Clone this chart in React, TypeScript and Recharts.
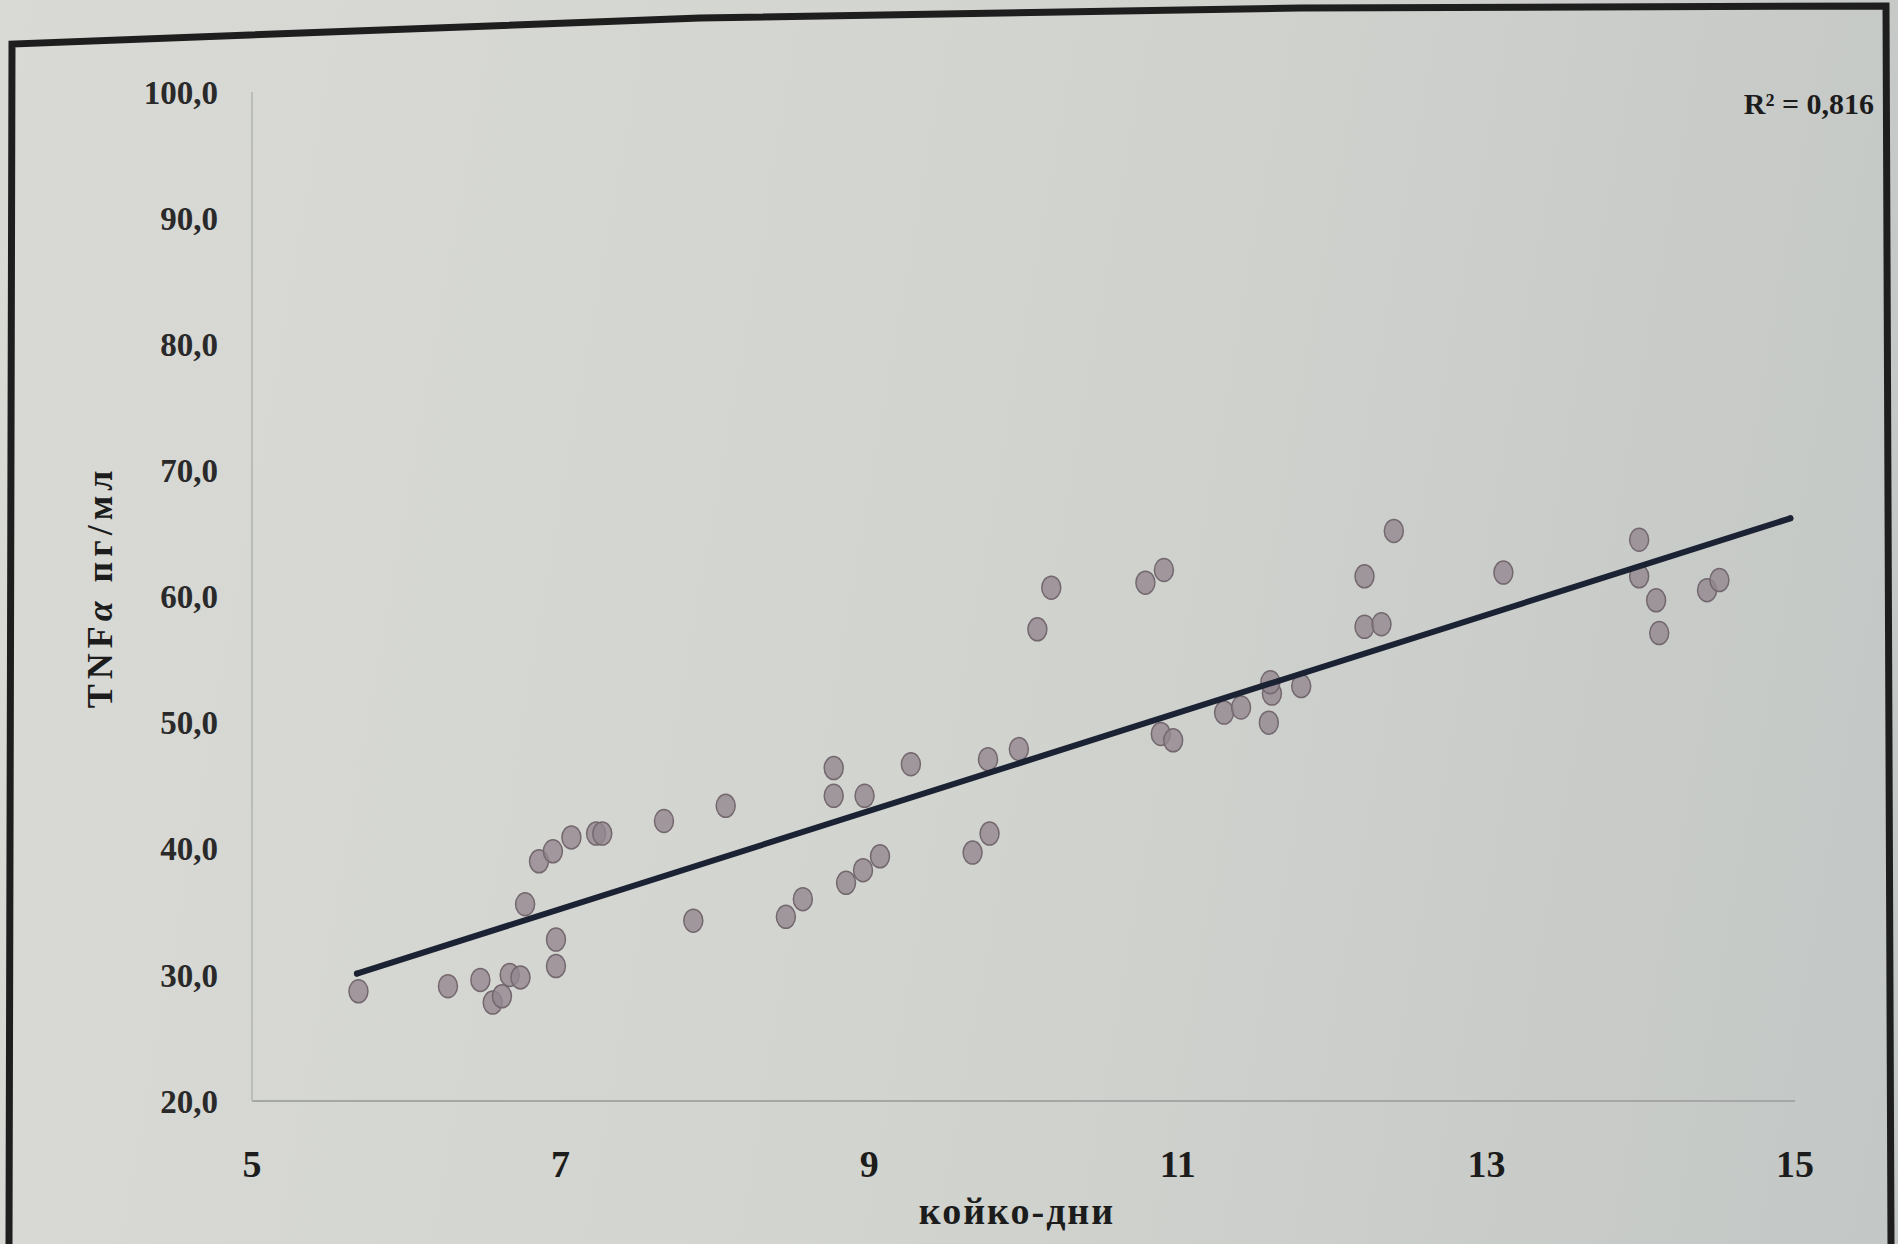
import { ScatterChart, Scatter, XAxis, YAxis } from "recharts";

// values (койко-дни vs TNFα)
const dayValues = [
  5.69, 6.27, 6.48, 6.56, 6.62, 6.67, 6.74, 6.77, 6.97, 6.97, 6.86, 6.95, 7.07, 7.23, 7.27,
  7.67, 7.86, 8.07, 8.46, 8.57, 8.77, 8.77, 8.97, 8.85, 8.96, 9.07, 9.27, 9.67, 9.78, 9.77,
  9.97, 10.09, 10.18, 10.79, 10.91, 10.89, 10.97, 11.3, 11.41, 11.61, 11.6, 11.59, 11.8,
  12.21, 12.4, 12.21, 12.32, 13.11, 13.99, 13.99, 14.1, 14.12, 14.43, 14.51,
];
const tnfValues = [
  28.7, 29.1, 29.6, 27.8, 28.3, 30.0, 29.8, 35.6, 32.8, 30.7, 39.0, 39.8, 40.9, 41.2, 41.2,
  42.2, 34.3, 43.4, 34.6, 36.0, 46.4, 44.2, 44.2, 37.3, 38.3, 39.4, 46.7, 39.7, 41.2, 47.1,
  47.9, 57.4, 60.7, 61.1, 62.1, 49.1, 48.6, 50.8, 51.2, 52.3, 53.2, 50.0, 52.9,
  61.6, 65.2, 57.6, 57.8, 61.9, 64.5, 61.6, 59.7, 57.1, 60.5, 61.3,
];

// linear trend line end points
const trendDays = [5.68, 14.97];
const trendTnf = [30.1, 66.2];

const xTicks = [5, 7, 9, 11, 13, 15];
const yTicks = [20, 30, 40, 50, 60, 70, 80, 90, 100];
const r2Text = "R² = 0,816";

const points = dayValues.map((x, i) => ({ x, y: tnfValues[i] }));
const trend = trendDays.map((x, i) => ({ x, y: trendTnf[i] }));

const serif = "'Liberation Serif', 'DejaVu Serif', serif";
const ink = "#1c1c1c";

const Dot = (p: any) => (
  <ellipse cx={p.cx} cy={p.cy} rx={9.5} ry={11.5} fill="#938790" fillOpacity={0.8} stroke="#74686f" strokeWidth={1.5} />
);
const EndCap = (p: any) => <circle cx={p.cx} cy={p.cy} r={3} fill="#1b2233" />;

export default function App() {
  return (
    <div
      style={{
        position: "absolute",
        left: 0,
        top: 0,
        width: 1898,
        height: 1244,
        overflow: "hidden",
        background: "linear-gradient(100deg, #d9dad5 0%, #d2d4cf 50%, #c3c7c5 100%)",
      }}
    >
      <div style={{ position: "absolute", left: 0, top: 0 }}>
        <ScatterChart width={1898} height={1244} margin={{ top: 92, right: 103, bottom: 83, left: 152 }}>
          <XAxis
            type="number"
            dataKey="x"
            domain={[5, 15]}
            ticks={xTicks}
            height={60}
            tickSize={0}
            tickMargin={49}
            axisLine={{ stroke: "#a4a7a5", strokeWidth: 2 }}
            tick={{ fill: ink, fontSize: 38, fontFamily: serif, fontWeight: 700 }}
          />
          <YAxis
            type="number"
            dataKey="y"
            domain={[20, 100]}
            ticks={yTicks}
            width={100}
            tickSize={0}
            tickMargin={34}
            axisLine={{ stroke: "#b9bcb9", strokeWidth: 2 }}
            tickFormatter={(v: number) => v.toFixed(1).replace(".", ",")}
            tick={{ fill: "#2a2a2a", fontSize: 33, fontFamily: serif, fontWeight: 700 }}
          />
          <Scatter data={points} shape={Dot} isAnimationActive={false} />
          <Scatter
            data={trend}
            shape={EndCap}
            line={{ stroke: "#1b2233", strokeWidth: 6, strokeLinecap: "round" }}
            isAnimationActive={false}
          />
        </ScatterChart>
      </div>
      <svg width={1898} height={1244} style={{ position: "absolute", left: 0, top: 0, pointerEvents: "none" }}>
        <path
          d="M 9 1244 L 12 44 L 700 18 L 1300 8 L 1886 6 L 1891 1244"
          fill="none"
          stroke="#1e1e1e"
          strokeWidth={7}
        />
        <text x={1874} y={114} textAnchor="end" fontFamily={serif} fontWeight={700} fontSize={30} fill={ink}>
          {r2Text}
        </text>
        <text
          x={0}
          y={0}
          transform="translate(112 587) rotate(-90)"
          textAnchor="middle"
          fontFamily={serif}
          fontWeight={700}
          fontSize={36}
          letterSpacing={5}
          fill={ink}
        >
          TNF<tspan fontStyle="italic">α</tspan>
          {"  пг/мл"}
        </text>
        <text x={1017} y={1224} textAnchor="middle" fontFamily={serif} fontWeight={700} fontSize={38} letterSpacing={2} fill={ink}>
          койко-дни
        </text>
      </svg>
    </div>
  );
}
